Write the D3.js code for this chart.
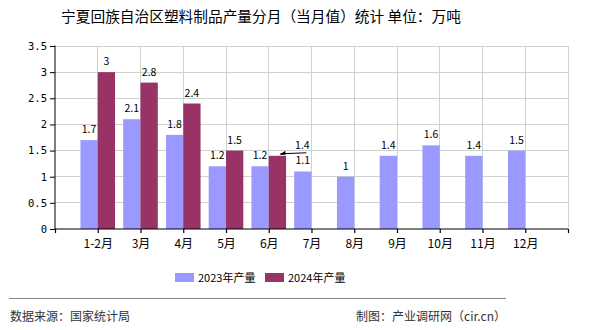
<!DOCTYPE html>
<html><head><meta charset="utf-8">
<script src="https://cdn.jsdelivr.net/npm/d3@7"></script>
<style>
html,body{margin:0;padding:0;background:#fff;}
svg{display:block;}
text{font-family:"SimSun","Noto Sans CJK SC",sans-serif;}
</style></head>
<body>
<svg id="c" width="590" height="330"></svg>
<script>
const categories = ["1-2月","3月","4月","5月","6月","7月","8月","9月","10月","11月","12月"];
const values2023 = [1.7,2.1,1.8,1.2,1.2,1.1,1,1.4,1.6,1.4,1.5];
const values2024 = [3,2.8,2.4,1.5,1.4,null,null,null,null,null,null];
const yTicks = [0,0.5,1,1.5,2,2.5,3,3.5];
const seriesNames = ["2023年产量","2024年产量"];
const colors = ["#9999FF","#993366"];
const title = "宁夏回族自治区塑料制品产量分月（当月值）统计 单位：万吨";

const numFont = '"DejaVu Sans Mono","Liberation Mono",monospace';
const svg = d3.select("#c");
const pL = 55, pR = 568, pT = 46, pB = 229;
const x = d3.scaleLinear().domain([0, categories.length + 1]).range([pL, pR]);
const y = d3.scaleLinear().domain([0, 3.5]).range([pB, pT]);
const bw = 17.3;

// title
svg.append("text").attr("x", 261).attr("y", 22).attr("text-anchor","middle")
  .attr("font-size","14.7px").attr("fill","#000").text(title);

// grid
const g = svg.append("g");
g.selectAll(".hg").data(yTicks.filter(d=>d>0)).join("line")
  .attr("x1", pL).attr("x2", pR).attr("y1", d=>y(d)).attr("y2", d=>y(d))
  .attr("stroke","#d0d0d0").attr("stroke-width",1).attr("shape-rendering","crispEdges");
const vIdx = d3.range(1, categories.length + 2);
g.selectAll(".vg").data(vIdx).join("line")
  .attr("x1", d=>x(d)).attr("x2", d=>x(d)).attr("y1", pT).attr("y2", pB)
  .attr("stroke","#d0d0d0").attr("stroke-width",1).attr("shape-rendering","crispEdges");

// bars
const bars = svg.append("g");
bars.selectAll(".b23").data(values2023).join("rect")
  .attr("x", (d,i)=>x(i+1)-bw).attr("width", bw)
  .attr("y", d=>y(d)).attr("height", d=>pB - y(d)).attr("fill", colors[0]);
bars.selectAll(".b24").data(values2024.map((v,i)=>({v,i})).filter(d=>d.v!=null)).join("rect")
  .attr("x", d=>x(d.i+1)).attr("width", bw)
  .attr("y", d=>y(d.v)).attr("height", d=>pB - y(d.v)).attr("fill", colors[1]);

// axes
const yAxis = d3.axisLeft(y).tickValues(yTicks).tickSize(5).tickPadding(3).tickFormat(d=>String(d));
const ya = svg.append("g").attr("transform",`translate(${pL},0)`).call(yAxis);
ya.selectAll("text").attr("font-size","10.5px").attr("fill","#000").style("font-family",numFont);
ya.selectAll("line,path").attr("stroke","#000");
ya.select(".domain").attr("d", `M0,${pB}V${pT-0.5}`);

const xAxis = d3.axisBottom(x).tickValues(d3.range(0, categories.length + 2)).tickSize(4).tickPadding(4)
  .tickFormat(d => (d>=1 && d<=categories.length) ? categories[d-1] : "");
const xa = svg.append("g").attr("transform",`translate(0,${pB})`).call(xAxis);
xa.selectAll("text").attr("font-size","12px").attr("fill","#000").attr("dy","0.9em").style("font-family",'"SimSun","Noto Sans CJK SC",sans-serif');
xa.selectAll("line,path").attr("stroke","#000").attr("stroke-width",1.2);
xa.select(".domain").attr("d", `M${pL},0H${pR}`);

// labels
const lab = svg.append("g").attr("font-size","10.5px").attr("fill","#000").attr("text-anchor","middle").style("font-family",numFont);
values2023.forEach((v,i)=>{
  let lx = x(i+1)-bw/2, ly = y(v)-7;
  lab.append("text").attr("x", lx).attr("y", ly).text(String(v));
});
values2024.forEach((v,i)=>{
  if (v==null) return;
  let lx = x(i+1)+bw/2, ly = y(v)-7;
  if (i === 4) {
    const tx = lx + 25, ty = y(v) - 7;
    svg.append("line").attr("x1", lx+3).attr("y1", y(v)-2).attr("x2", lx+29).attr("y2", y(v)-3)
      .attr("stroke","#000").attr("stroke-width",1);
    svg.append("path").attr("d", `M${lx+2},${y(v)-1}L${lx+8},${y(v)-5}L${lx+8},${y(v)-1}Z`).attr("fill","#000");
    lab.append("text").attr("x", tx).attr("y", ty).text(String(v));
  } else {
    lab.append("text").attr("x", lx).attr("y", ly).text(String(v));
  }
});

// legend
const lg = svg.append("g");
const legX = [175, 265];
seriesNames.forEach((n,i)=>{
  lg.append("rect").attr("x", legX[i]).attr("y", 273).attr("width", 19).attr("height", 9).attr("fill", colors[i]);
  lg.append("text").attr("x", legX[i]+23).attr("y", 281.5).attr("font-size","11px").attr("fill","#000")
    .style("font-family",'"Noto Sans CJK SC",sans-serif').text(n);
});

// footer
svg.append("line").attr("x1", 9).attr("x2", 506).attr("y1", 298.5).attr("y2", 298.5).attr("stroke","#888").attr("stroke-width",1);
svg.append("text").attr("x", 10).attr("y", 321).attr("font-size","12px").attr("fill","#333").text("数据来源：国家统计局");
svg.append("text").attr("x", 506).attr("y", 321).attr("text-anchor","end").attr("font-size","12px").attr("fill","#333").text("制图：产业调研网（cir.cn）");
</script>
</body></html>
